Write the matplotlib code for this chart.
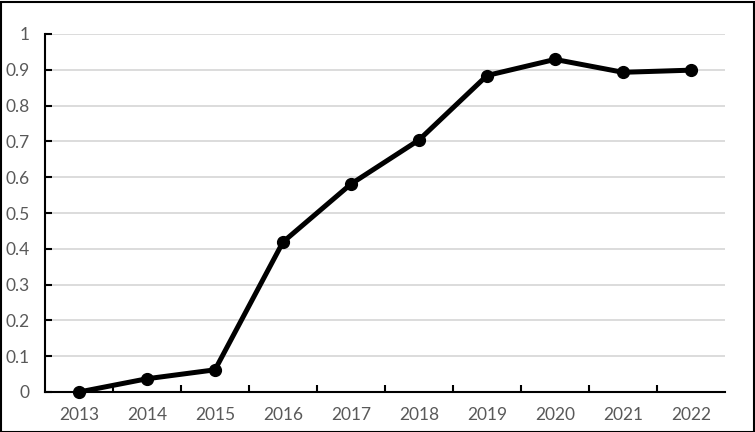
import matplotlib.pyplot as plt
from matplotlib.patches import Rectangle

years = ['2013', '2014', '2015', '2016', '2017', '2018', '2019', '2020', '2021', '2022']
values = [0.0, 0.037, 0.062, 0.419, 0.581, 0.704, 0.884, 0.929, 0.893, 0.899]
y_ticks = [0, 0.1, 0.2, 0.3, 0.4, 0.5, 0.6, 0.7, 0.8, 0.9, 1]
y_labels = ['0', '0.1', '0.2', '0.3', '0.4', '0.5', '0.6', '0.7', '0.8', '0.9', '1']

W, H = 755, 432
fig = plt.figure(figsize=(W / 100, H / 100), dpi=100)
ax = fig.add_axes([45 / W, (H - 392) / H, 680 / W, 358 / H])

x = list(range(len(years)))
ax.plot(x, values, color='black', linewidth=3.6, marker='o', markersize=8.5,
        solid_capstyle='round', zorder=3, clip_on=False)

ax.set_xlim(-0.5, len(years) - 0.5)
ax.set_ylim(0, 1)
ax.set_yticks(y_ticks)
ax.set_yticklabels(y_labels)
ax.set_xticks(x)
ax.set_xticklabels(years)
ax.set_xticks([i + 0.5 for i in range(len(years) - 1)], minor=True)

ax.grid(axis='y', color='#d9d9d9', linewidth=1.3)
ax.set_axisbelow(True)
for s in ['top', 'right']:
    ax.spines[s].set_visible(False)
for s in ['left', 'bottom']:
    ax.spines[s].set_linewidth(1.5)
    ax.spines[s].set_color('black')

ax.tick_params(axis='y', direction='in', length=5, width=1.5, pad=11,
               labelsize=12.5, labelcolor='#595959')
ax.tick_params(axis='x', which='major', length=0, pad=11,
               labelsize=12.5, labelcolor='#595959')
ax.tick_params(axis='x', which='minor', direction='in', length=5, width=1.5)
for lab in ax.get_xticklabels() + ax.get_yticklabels():
    lab.set_family('Lato')

fig.patches.append(Rectangle((0.5 / W, 0.5 / H), 1 - 2 / W, 1 - 2 / H,
                             transform=fig.transFigure, fill=False,
                             edgecolor='black', linewidth=1.5))

fig.savefig('out.png', dpi=100)
